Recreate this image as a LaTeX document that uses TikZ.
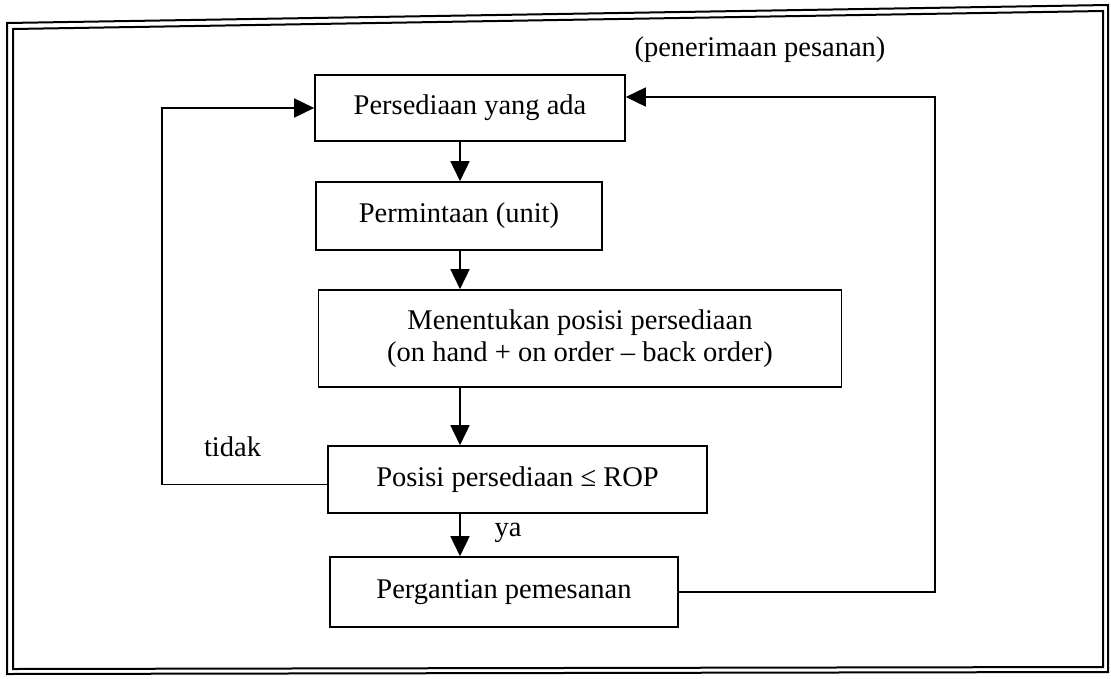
\documentclass[tikz,border=0pt]{standalone}
\usepackage{fontspec}
\setmainfont{Liberation Serif}
\usetikzlibrary{arrows.meta}
\begin{document}
\begin{tikzpicture}[x=1pt,y=-1pt,
  box/.style={draw, line width=1.6pt, inner sep=0pt, align=center, font=\fontsize{28.5}{32}\selectfont},
  lbl/.style={inner sep=0pt, font=\fontsize{28.5}{32}\selectfont},
  conn/.style={line width=1.6pt},
  arr/.style={conn, -{Triangle[width=19pt,length=20pt]}},
  frameline/.style={line width=2pt}]
\useasboundingbox (0,0) rectangle (1111,678);
% double frame
\draw[frameline] (7,23) -- (1108,5) -- (1108,672) -- (7,674) -- cycle;
\draw[frameline] (13,29) -- (1103,11) -- (1103,667) -- (13,669) -- cycle;
% boxes
\node[box, minimum width=310pt, minimum height=66pt] (b1) at (470,108) {Persediaan yang ada};
\node[box, minimum width=286pt, minimum height=68pt] (b2) at (459,216) {Permintaan (unit)};
\node[box, minimum width=523pt, minimum height=97pt] (b3) at (580,338.5) {Menentukan posisi persediaan\\(on hand + on order – back order)};
\node[box, minimum width=379pt, minimum height=67pt] (b4) at (517.5,479.5) {Posisi persediaan ≤ ROP};
\node[box, minimum width=348pt, minimum height=70pt] (b5) at (504,592) {Pergantian pemesanan};
% labels
\node[lbl] (pen) at (760,50) {(penerimaan pesanan)};
\node[lbl] (tidak) at (232.5,447) {tidak};
\node[lbl] (ya) at (508,533) {ya};
% down arrows
\coordinate (col) at (460,0);
\draw[arr] (b1.south -| col) -- (b2.north -| col);
\draw[arr] (b2.south -| col) -- (b3.north -| col);
\draw[arr] (b3.south -| col) -- (b4.north -| col);
\draw[arr] (b4.south -| col) -- (b5.north -| col);
% feedback loops
\draw[arr] ([yshift=-5pt]b4.west) -- ++(-165,0) |- (b1.west);
\coordinate (rc) at (935,592);
\draw[arr] (b5.east) -- (rc) |- ([yshift=11pt]b1.east);
\end{tikzpicture}
\end{document}
